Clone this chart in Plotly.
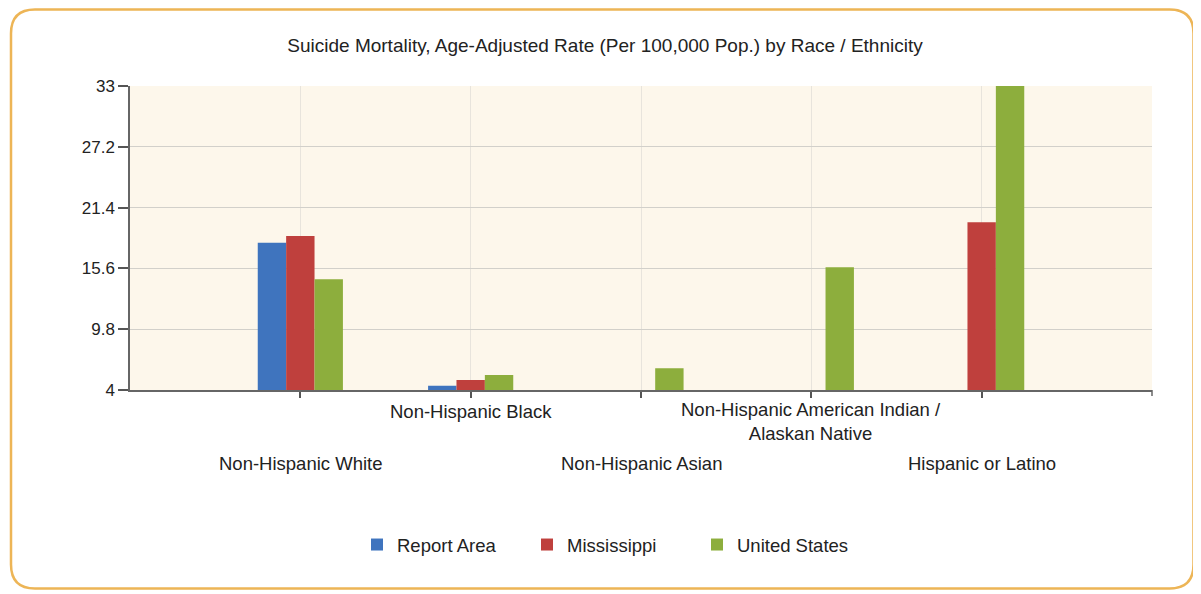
import plotly.graph_objects as go

categories = ["Non-Hispanic White", "Non-Hispanic Black", "Non-Hispanic Asian",
              "Non-Hispanic American Indian /<br>Alaskan Native", "Hispanic or Latino"]
label_row = ["low", "high", "low", "high", "low"]
series_names = ["Report Area", "Mississippi", "United States"]
report_area = [18.05, 4.4, None, None, None]
mississippi = [18.7, 4.95, None, None, 20.0]
united_states = [14.56, 5.43, 6.07, 15.7, 33.0]
series_values = [report_area, mississippi, united_states]
series_colors = ["#3F74BE", "#BF403D", "#8DAE3D"]
y_ticks = [4, 9.8, 15.6, 21.4, 27.2, 33]

# the page body adds an 8px margin; work in page pixels and subtract it
OFF = 8
W, H = 1201 - OFF, 594 - OFF
L, R, T, B = 130 - OFF, 1152 - OFF, 86 - OFF, 390 - OFF


def px(xp):
    return (xp - OFF - L) / (R - L)


def py(yp):
    return (B - (yp - OFF)) / (B - T)


fig = go.Figure()
for name, vals, col in zip(series_names, series_values, series_colors):
    fig.add_trace(go.Bar(x=categories, y=vals, name=name, marker_color=col,
                         marker_line_width=0))

# rounded frame (page pixel coords)
l, r, t, b, rad = 11, 1193.5, 9.5, 588.5, 24
path = (f"M {px(l+rad)} {py(t)} L {px(r-rad)} {py(t)} Q {px(r)} {py(t)} {px(r)} {py(t+rad)} "
        f"L {px(r)} {py(b-rad)} Q {px(r)} {py(b)} {px(r-rad)} {py(b)} "
        f"L {px(l+rad)} {py(b)} Q {px(l)} {py(b)} {px(l)} {py(b-rad)} "
        f"L {px(l)} {py(t+rad)} Q {px(l)} {py(t)} {px(l+rad)} {py(t)} Z")
shapes = [dict(type="path", xref="paper", yref="paper", path=path,
               line=dict(color="#EDB556", width=2.5), layer="below")]
# right-end tick on x axis
shapes.append(dict(type="line", xref="paper", yref="paper", x0=1, x1=1,
                   y0=0, y1=py(396), line=dict(color="#666666", width=1.5)))

annotations = []
for cat, row in zip(categories, label_row):
    if row == "high":
        yc = 421 if "<br>" in cat else 411
    else:
        yc = 463
    annotations.append(dict(x=cat, xref="x", yref="paper", y=py(yc),
                            yanchor="middle", xanchor="center", showarrow=False,
                            text=cat, font=dict(size=18.5, color="#222222"),
                            align="center"))

fig.update_layout(
    width=W, height=H,
    margin=dict(l=L, r=W - R, t=T, b=H - B, pad=0),
    paper_bgcolor="white",
    plot_bgcolor="#FDF7EB",
    font=dict(family="Liberation Sans, Arial, sans-serif", color="#222222"),
    title=dict(text="Suicide Mortality, Age-Adjusted Rate (Per 100,000 Pop.) by Race / Ethnicity",
               x=(605 - OFF) / W, xanchor="center", y=1 - (45 - OFF) / H, yanchor="middle",
               font=dict(size=19, color="#222222")),
    barmode="group", bargap=0.5, bargroupgap=0,
    showlegend=True,
    legend=dict(orientation="h", x=px(612), xanchor="center", y=py(545), yanchor="middle",
                font=dict(size=18.5, color="#222222"), bgcolor="rgba(0,0,0,0)",
                traceorder="normal", entrywidth=125),
    shapes=shapes,
    annotations=annotations,
)
fig.update_yaxes(range=[4, 33], tickvals=y_ticks, ticktext=[str(v) for v in y_ticks],
                 ticks="outside", ticklen=10, tickcolor="#555555", tickwidth=1.5,
                 showline=True, linecolor="#666666", linewidth=1.5,
                 showgrid=True, gridcolor="#D2D0CA", gridwidth=1.3,
                 tickfont=dict(size=17, color="#222222"), zeroline=False)
fig.update_xaxes(range=[-1, 5], showticklabels=False, ticks="outside", ticklen=6,
                 tickcolor="#555555", tickwidth=1.5,
                 showline=True, linecolor="#666666", linewidth=1.5,
                 showgrid=True, gridcolor="#E8E4DC", gridwidth=1)

fig.write_html("out.html")
